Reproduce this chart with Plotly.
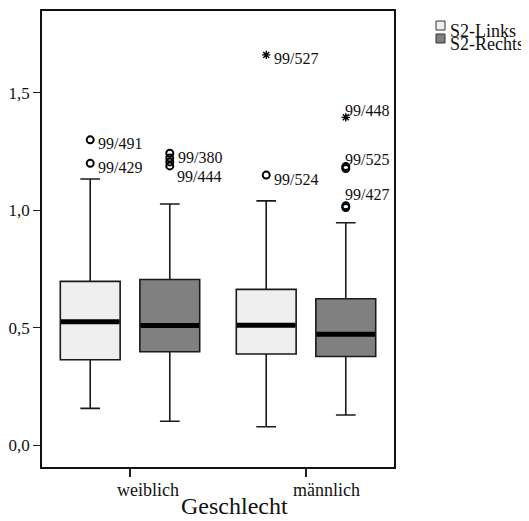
import plotly.graph_objects as go

categories = ["weiblich", "männlich"]
series = ["S2-Links", "S2-Rechts"]
series_colors = ["#efefef", "#808080"]

# box statistics per series, one value per category
q1 = {"S2-Links": [0.363, 0.388], "S2-Rechts": [0.397, 0.377]}
median = {"S2-Links": [0.525, 0.510], "S2-Rechts": [0.509, 0.472]}
q3 = {"S2-Links": [0.697, 0.663], "S2-Rechts": [0.705, 0.623]}
lowerfence = {"S2-Links": [0.156, 0.078], "S2-Rechts": [0.101, 0.128]}
upperfence = {"S2-Links": [1.133, 1.040], "S2-Rechts": [1.027, 0.947]}

# outliers
out_series = ["S2-Links", "S2-Links", "S2-Rechts", "S2-Rechts", "S2-Rechts", "S2-Rechts",
              "S2-Links", "S2-Links", "S2-Rechts", "S2-Rechts", "S2-Rechts", "S2-Rechts", "S2-Rechts"]
out_cat = [0, 0, 0, 0, 0, 0, 1, 1, 1, 1, 1, 1, 1]
out_value = [1.300, 1.200, 1.243, 1.223, 1.206, 1.189, 1.150, 1.662, 1.396, 1.186, 1.178, 1.019, 1.012]
out_kind = ["o", "o", "o", "o", "o", "o", "o", "*", "*", "o", "o", "o", "o"]
out_label = ["99/491", "99/429", "99/380", "", "", "99/444", "99/524", "99/527", "99/448", "99/525", "", "99/427", ""]
out_place = ["right", "right", "right", "", "", "below", "right", "right", "above", "above", "", "above2", ""]

group_offset = {"S2-Links": -0.226, "S2-Rechts": 0.226}
box_width = 0.34
serif = "Liberation Serif"
label_shift = {"right": (6, -4), "below": (5, -11), "above": (-3, 7), "above2": (-3, 11)}

# layout geometry (pixels); the page body adds an 8px offset
OFF = 8
W, H = 529, 521
ML = 42 - OFF
MT = 11 - OFF
MB = H - (467 - OFF)
MR = W - (394 - OFF)
PW, PH = W - ML - MR, H - MT - MB


def px(x):
    return (x - OFF - ML) / PW


def py(y):
    return (H - MB - (y - OFF)) / PH


fig = go.Figure()

for s, col in zip(series, series_colors):
    xs = [i + group_offset[s] for i in range(len(categories))]
    fig.add_trace(go.Box(
        name=s, x=xs, q1=q1[s], median=median[s], q3=q3[s],
        lowerfence=lowerfence[s], upperfence=upperfence[s],
        width=box_width, whiskerwidth=0.33,
        fillcolor=col, line=dict(color="#1a1a1a", width=1.6),
        boxpoints=False, showlegend=False, hoverinfo="skip",
    ))

# thick median bars
for s in series:
    for i in range(len(categories)):
        c = i + group_offset[s]
        fig.add_trace(go.Scatter(
            x=[c - box_width / 2 + 0.004, c + box_width / 2 - 0.004],
            y=[median[s][i], median[s][i]],
            mode="lines", line=dict(color="black", width=5),
            showlegend=False, hoverinfo="skip",
        ))

# outlier markers
for kind, sym, size, lw in [("o", "circle-open", 7, 2), ("*", "asterisk-open", 7, 1.4)]:
    xs, ys = [], []
    for s, ci, v, k in zip(out_series, out_cat, out_value, out_kind):
        if k == kind:
            xs.append(ci + group_offset[s])
            ys.append(v)
    fig.add_trace(go.Scatter(
        x=xs, y=ys, mode="markers",
        marker=dict(symbol=sym, size=size, color="black", line=dict(color="black", width=lw)),
        showlegend=False, hoverinfo="skip",
    ))

# outlier labels
for s, ci, v, lab, place in zip(out_series, out_cat, out_value, out_label, out_place):
    if not lab:
        continue
    xs_, ys_ = label_shift[place]
    fig.add_annotation(x=ci + group_offset[s], y=v, text=lab, showarrow=False,
                       xanchor="left", yanchor="middle", xshift=xs_, yshift=ys_,
                       font=dict(family=serif, size=16, color="#111111"))

# category labels and axis title
for i, cat in enumerate(categories):
    fig.add_annotation(x=i, y=py(490), xref="x", yref="paper", text=cat, showarrow=False,
                       xanchor="left", yanchor="middle", xshift=-15,
                       font=dict(family=serif, size=18, color="#111111"))
fig.add_annotation(x=px(234), y=py(506), xref="paper", yref="paper", text="Geschlecht",
                   showarrow=False, xanchor="center", yanchor="middle",
                   font=dict(family=serif, size=24, color="#111111"))

# legend
for k, (s, col) in enumerate(zip(series, series_colors)):
    top = 21 + 13 * k
    fig.add_shape(type="rect", xref="paper", yref="paper",
                  x0=px(436), x1=px(445), y0=py(top), y1=py(top + 9),
                  fillcolor=col, line=dict(color="#333333", width=1))
    fig.add_annotation(x=px(448), y=py(top + 10), xref="paper", yref="paper", text=s,
                       showarrow=False, xanchor="left", yanchor="middle",
                       font=dict(family=serif, size=18, color="#111111"))

fig.update_layout(
    width=W, height=H,
    margin=dict(l=ML, r=MR, t=MT, b=MB),
    paper_bgcolor="white", plot_bgcolor="white",
    separators=",.",
    font=dict(family=serif, size=16, color="#111111"),
    showlegend=False,
)
fig.update_xaxes(
    range=[-0.5, 1.5], tickvals=list(range(len(categories))), showticklabels=False,
    ticks="outside", ticklen=8, tickwidth=1.5, tickcolor="#222222",
    showline=True, linecolor="#111111", linewidth=1.5,
    mirror=True, showgrid=False, zeroline=False, automargin=False,
)
fig.update_yaxes(
    range=[-0.0937, 1.849], tickvals=[0, 0.5, 1.0, 1.5], tickformat=".1f",
    ticks="outside", ticklen=7, tickwidth=1.2, tickcolor="#222222",
    showline=True, linecolor="#111111", linewidth=1.5,
    mirror=True, showgrid=False, zeroline=False, automargin=False,
    tickfont=dict(family=serif, size=17, color="#111111"),
)

fig.write_html("out.html")
